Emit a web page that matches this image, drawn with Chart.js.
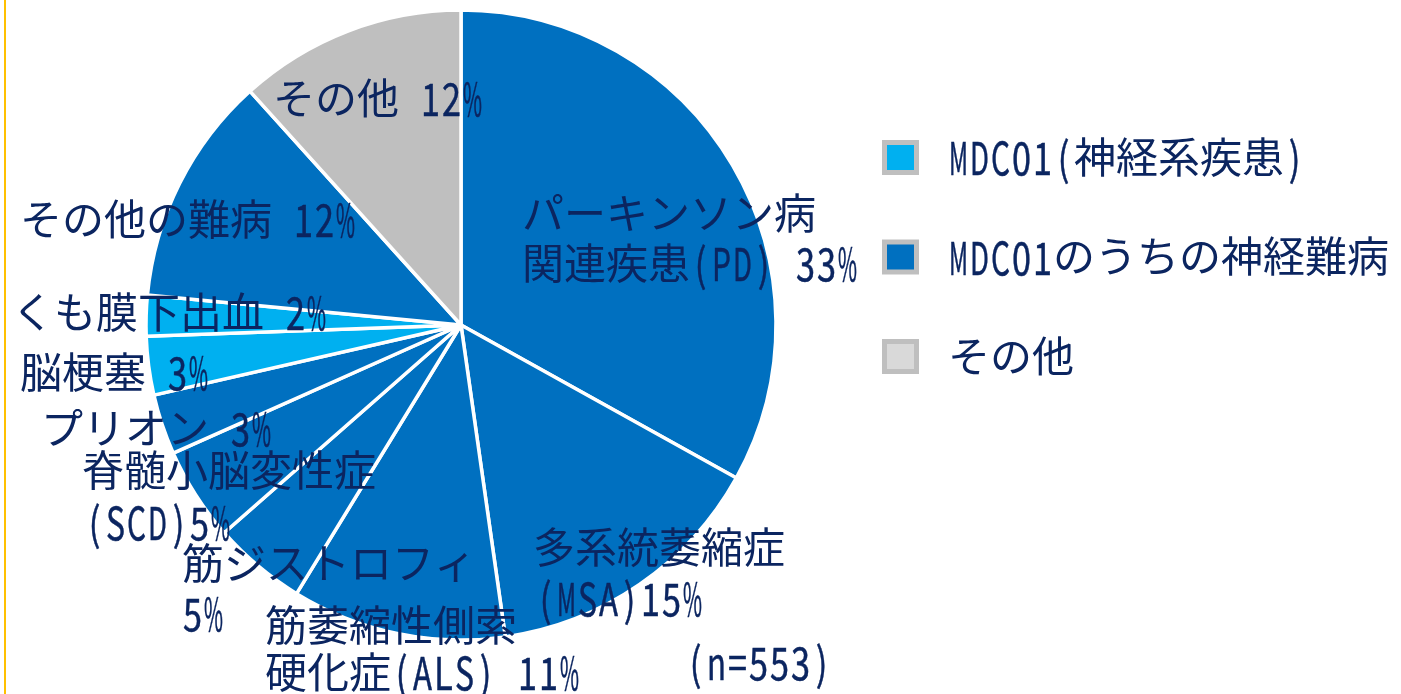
<!DOCTYPE html>
<html>
<head>
<meta charset="utf-8">
<script src="https://cdn.jsdelivr.net/npm/chart.js"></script>
<style>
    html, body { margin: 0; padding: 0; background: #fff; }
    #wrap { position: relative; width: 1401px; height: 694px; overflow: hidden; }
    #wrap .edge { position: absolute; left: 4px; top: 0; width: 2px; height: 694px; background: #FFC000; }
</style>
</head>
<body>
<div id="wrap">
    <div class="edge"></div>
    <canvas id="chart" width="1401" height="694"></canvas>
</div>
<script>
    // slices, clockwise from 12 o'clock
    var categories = ['パーキンソン病関連疾患(PD)', '多系統萎縮症(MSA)', '筋萎縮性側索硬化症(ALS)', '筋ジストロフィ',
        '脊髄小脳変性症(SCD)', 'プリオン', '脳梗塞', 'くも膜下出血', 'その他の難病', 'その他'];
    var shares = [33.1, 14.7, 11.0, 4.8, 4.8, 3.1, 3.0, 2.1, 11.8, 11.7];
    var groupOf = [1, 1, 1, 1, 1, 1, 0, 0, 1, 2];

    var labelLines = [
        ['パーキンソン病', '関連疾患(PD) 33%'],
        ['多系統萎縮症', '(MSA)15%'],
        ['筋萎縮性側索', '硬化症(ALS) 11%'],
        ['筋ジストロフィ', '5%'],
        ['脊髄小脳変性症', '(SCD)5%'],
        ['プリオン 3%'],
        ['脳梗塞 3%'],
        ['くも膜下出血 2%'],
        ['その他の難病 12%'],
        ['その他 12%']
    ];
    var legendLabels = ['MDC01(神経系疾患)', 'MDC01のうちの神経難病', 'その他'];
    var groupColors = ['#00B0F0', '#0070C0', '#BFBFBF'];
    var legendFills = ['#00B0F0', '#0070C0', '#D9D9D9'];
    var noteText = '(n=553)';

    // label placement, relative to pie centre (left edge, line middle)
    var labelOffsets = [
        [[61, -112], [61, -62]],
        [[72, 222], [74, 273]],
        [[-196, 300], [-196, 347]],
        [[-279, 238], [-279, 288]],
        [[-379, 145], [-377, 197]],
        [[-420, 103]],
        [[-441, 47]],
        [[-449, -13]],
        [[-441, -106]],
        [[-188, -227]]
    ];

    var CJK_FONT = "42px 'Noto Sans CJK JP', sans-serif";
    var LATIN_FONT = "45px 'Noto Sans CJK JP', sans-serif";
    var HALF = 21;        // half-width cell of the original gothic font
    var LATIN_SX = 0.77;

    var TEXT_COLOR = '#0B2560';

    // draw a line of mixed Japanese / half-width Latin text, left aligned
    function drawMixed(c, text, x, y) {
        for (var i = 0; i < text.length; i++) {
            var ch = text[i];
            if (text.charCodeAt(i) >= 0x3000) {
                c.font = CJK_FONT;
                c.fillText(ch, x, y);
                x += c.measureText(ch).width;
            } else {
                if (ch !== ' ') {
                    c.font = LATIN_FONT;
                    var w = c.measureText(ch).width;
                    var sx = Math.min(LATIN_SX, (HALF - 2) / w);
                    c.save();
                    c.translate(x + (HALF - w * sx) / 2, y + 1);
                    c.scale(sx, 1);
                    c.fillText(ch, 0, 0);
                    c.strokeText(ch, 0, 0);
                    c.restore();
                }
                x += HALF;
            }
        }
    }

    var textPlugin = {
        id: 'textPlugin',
        afterDatasetsDraw: function (chart) {
            var c = chart.ctx;
            var arcs = chart.getDatasetMeta(0).data;
            c.save();
            c.fillStyle = TEXT_COLOR;
            c.strokeStyle = TEXT_COLOR;
            c.lineWidth = 0.5;
            c.textBaseline = 'middle';
            c.textAlign = 'left';
            arcs.forEach(function (arc, i) {
                labelLines[i].forEach(function (line, j) {
                    var off = labelOffsets[i][j];
                    drawMixed(c, line, arc.x + off[0], arc.y + off[1]);
                });
            });
            var cx = arcs[0].x, cy = arcs[0].y;
            drawMixed(c, noteText, cx + 224, cy + 337);

            // legend
            legendLabels.forEach(function (txt, k) {
                var y = 157 + k * 99.5;
                c.fillStyle = '#BFBFBF';
                c.fillRect(882, y - 17, 37, 35);
                c.fillStyle = legendFills[k];
                c.fillRect(887, y - 12, 27, 25);
                c.fillStyle = TEXT_COLOR;
                drawMixed(c, txt, 948, y);
            });
            c.restore();
        }
    };

    var ctx = document.getElementById('chart').getContext('2d');
    var chart = new Chart(ctx, {
        type: 'pie',
        data: {
            labels: categories,
            datasets: [{
                data: shares,
                backgroundColor: groupOf.map(function (g) { return groupColors[g]; }),
                borderColor: '#ffffff',
                borderWidth: 3.5
            }]
        },
        options: {
            responsive: false,
            animation: false,
            events: [],
            radius: 315,
            layout: { padding: { left: 0, right: 479, top: 0, bottom: 44 } },
            plugins: {
                legend: { display: false },
                tooltip: { enabled: false }
            }
        },
        plugins: [textPlugin]
    });
</script>
</body>
</html>
